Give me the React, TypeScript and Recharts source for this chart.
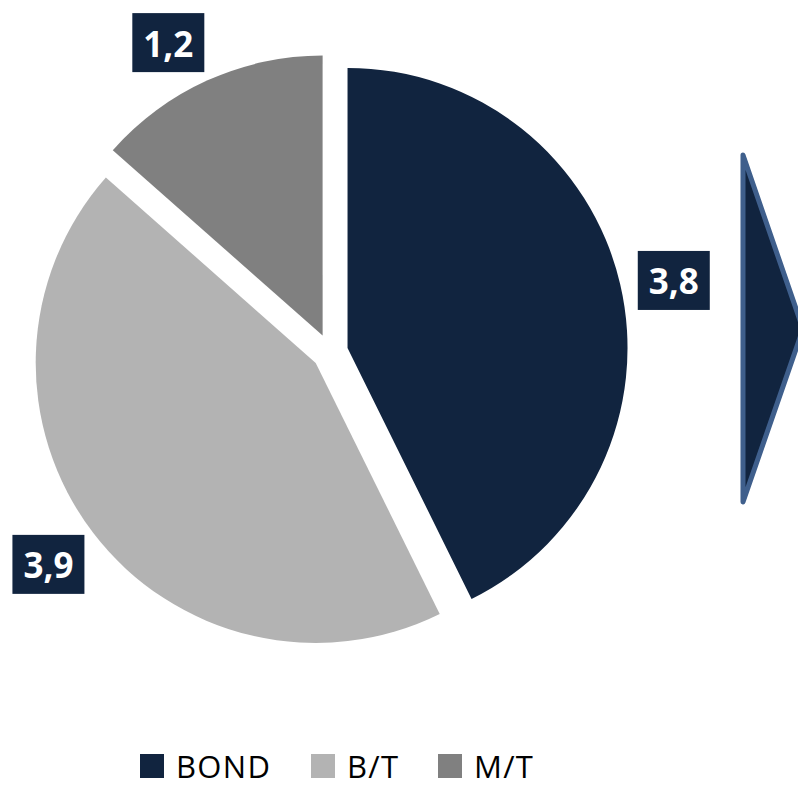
import { PieChart, Pie, Cell, Legend, Customized } from 'recharts';

const categories = ['BOND', 'B/T', 'M/T'];
const values = [3.8, 3.9, 1.2];
const labels = ['3,8', '3,9', '1,2'];
const colors = ['#11243F', '#B3B3B3', '#808080'];

const W = 798;
const H = 788;
const CX = 330;
const CY = 352;
const R = 280;
const EXPLODE = 18;
const LABEL_R = 334;
const RAD = Math.PI / 180;

// small nudges so the label boxes sit where the original put them
const labelNudge = [
	[1, 8],
	[-2, -2],
	[-17, 11],
];
const legendWidths = [171, 127, 140];

const data = categories.map((name, i) => ({ name, value: values[i] }));
const total = values.reduce((s, v) => s + v, 0);

// mid angle of every slice, recharts convention (deg, counter-clockwise from 3 o'clock)
const midAngles = values.map((v, i) => {
	const before = values.slice(0, i).reduce((s, x) => s + x, 0);
	const start = 90 - (before / total) * 360;
	return start - ((v / total) * 360) / 2;
});

const renderLabel = (only: number) => (props: any) => {
	if (props.index !== only) return null;
	const a = -props.midAngle * RAD;
	const x = props.cx + LABEL_R * Math.cos(a) + labelNudge[only][0];
	const y = props.cy + LABEL_R * Math.sin(a) + labelNudge[only][1];
	return (
		<g>
			<rect x={x - 36} y={y - 29} width={72} height={59} fill='#11243F' />
			<text
				x={x}
				y={y + 1}
				fill='#fff'
				textAnchor='middle'
				dominantBaseline='central'
				fontFamily='"Open Sans", sans-serif'
				fontWeight={700}
				fontSize={35}
			>
				{labels[only]}
			</text>
		</g>
	);
};

const Arrow = () => (
	<polygon
		points='743,155 803,329 743,502'
		fill='#11243F'
		stroke='#3F5F8C'
		strokeWidth={5}
		strokeLinejoin='round'
	/>
);

const LegendBox = () => (
	<div
		style={{
			display: 'flex',
			alignItems: 'center',
			fontFamily: '"Open Sans", sans-serif',
			fontSize: 31,
			lineHeight: '32px',
			letterSpacing: 1.3,
			color: '#000',
		}}
	>
		{categories.map((c, i) => (
			<div key={c} style={{ display: 'flex', alignItems: 'center', width: legendWidths[i] }}>
				<div style={{ width: 24, height: 24, background: colors[i], marginRight: 12, flexShrink: 0 }} />
				<span>{c}</span>
			</div>
		))}
	</div>
);

export default function App() {
	return (
		<div style={{ position: 'absolute', top: 0, left: 0, width: W, height: H, background: '#fff' }}>
			<PieChart width={W} height={H} margin={{ top: 0, right: 0, bottom: 0, left: 0 }}>
				{values.map((_, k) => {
					const a = -midAngles[k] * RAD;
					return (
						<Pie
							key={k}
							data={data}
							dataKey='value'
							cx={CX + EXPLODE * Math.cos(a)}
							cy={CY + EXPLODE * Math.sin(a)}
							outerRadius={R}
							startAngle={90}
							endAngle={-270}
							stroke='none'
							isAnimationActive={false}
							labelLine={false}
							label={renderLabel(k)}
							legendType='none'
						>
							{data.map((d, i) => (
								<Cell key={d.name} fill={i === k ? colors[i] : 'none'} />
							))}
						</Pie>
					);
				})}
				<Customized component={Arrow} />
				<Legend
					content={LegendBox}
					wrapperStyle={{ position: 'absolute', top: 750, left: 140, width: 'auto' }}
				/>
			</PieChart>
		</div>
	);
}
